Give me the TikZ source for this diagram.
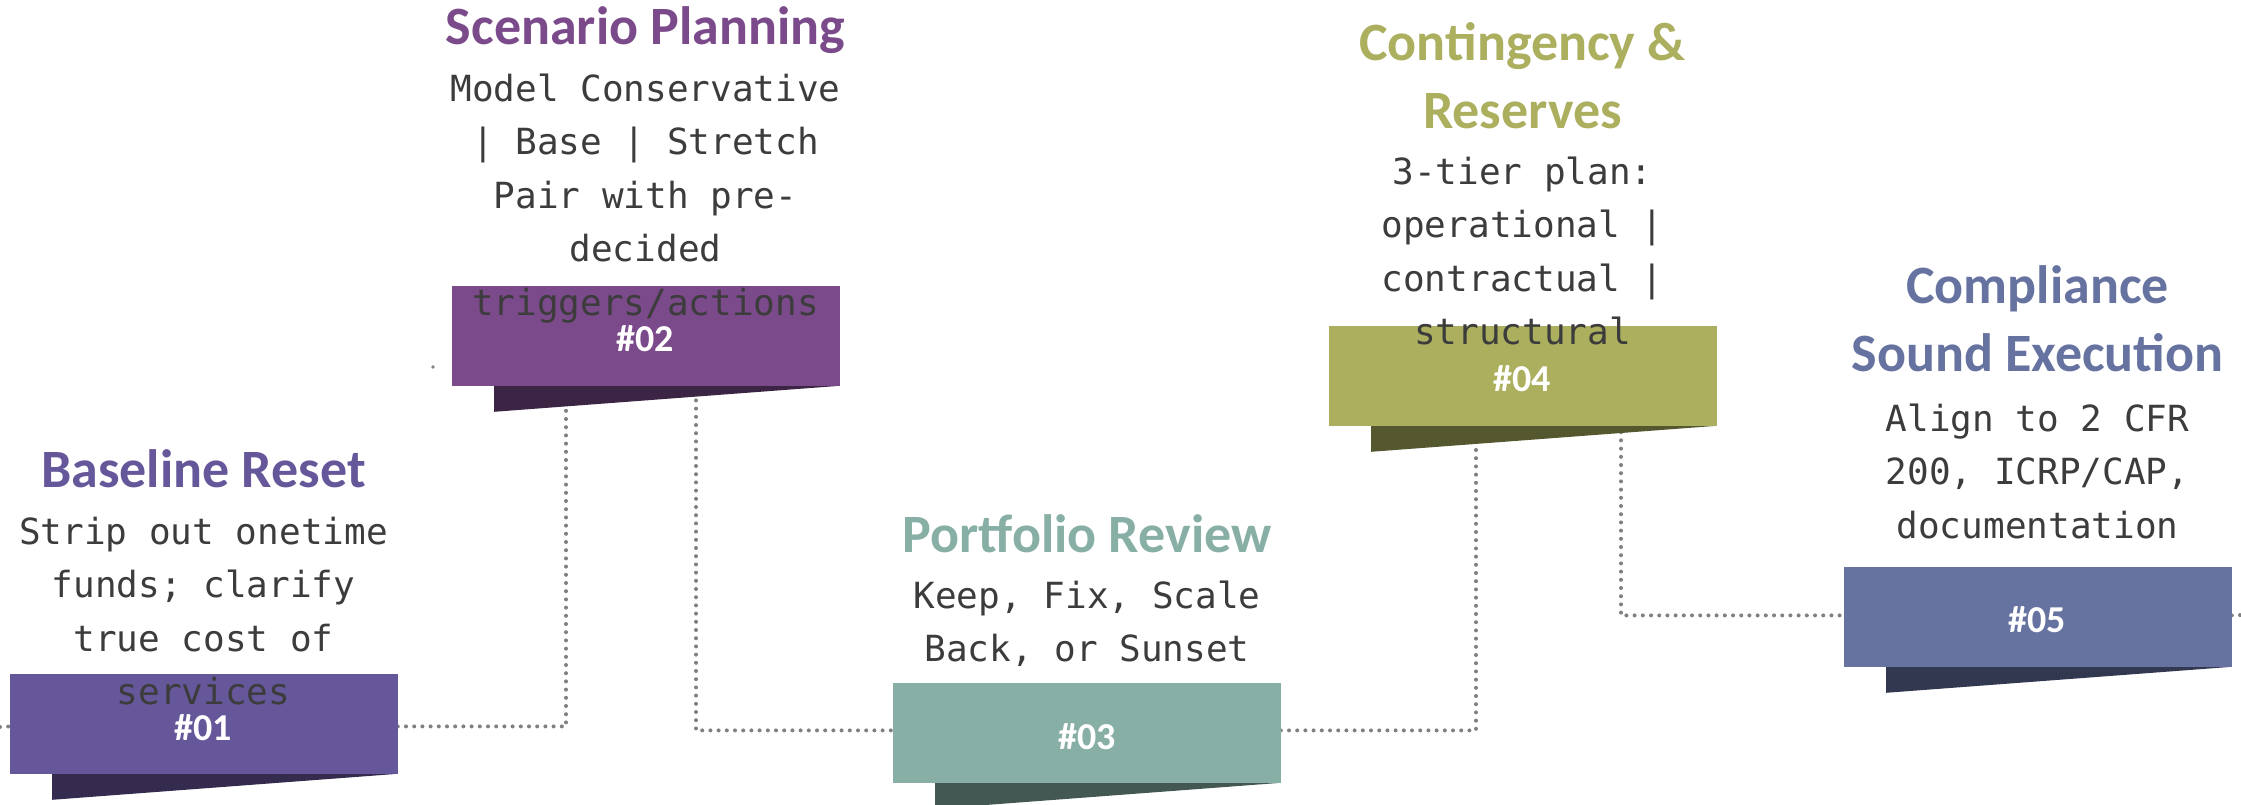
\documentclass[tikz,border=0pt]{standalone}
\usepackage{fontspec}
\setmainfont{Carlito}
\newfontfamily\monofont{DejaVu Sans Mono}
\definecolor{cA}{HTML}{66579B}
\definecolor{cB}{HTML}{7B4A8B}
\definecolor{cC}{HTML}{88AFA5}
\definecolor{cD}{HTML}{ABAF5E}
\definecolor{cE}{HTML}{6673A0}
\definecolor{sA}{HTML}{342B4E}
\definecolor{sB}{HTML}{3C2444}
\definecolor{sC}{HTML}{435853}
\definecolor{sD}{HTML}{55582F}
\definecolor{sE}{HTML}{333851}
\definecolor{dotgray}{HTML}{808080}
\definecolor{bodygray}{HTML}{3C3C3C}
\tikzset{
  dotline/.style={draw=dotgray, line width=2pt, line cap=round, dash pattern=on 0pt off 4.1pt},
  stepbox/.style={minimum width=193.5pt, minimum height=49.5pt, inner sep=0pt, draw=none, anchor=north west},
  bodytext/.style={font=\monofont\fontsize{18}{22}\selectfont, text=bodygray, anchor=base, inner sep=0pt},
  titletext/.style={font=\bfseries\fontsize{27}{32}\selectfont, anchor=base, inner sep=0pt},
  numtext/.style={font=\bfseries\fontsize{19}{22}\selectfont, text=white, inner sep=0pt},
}
\begin{document}
\begin{tikzpicture}[x=0.5pt,y=-0.5pt]
\useasboundingbox[fill=white] (0,0) rectangle (2241,804);
\node[stepbox, fill=cA] (b1) at (10,674) {};
\node[stepbox, fill=cB] (b2) at (452,286) {};
\node[stepbox, fill=cC] (b3) at (893,683) {};
\node[stepbox, fill=cD] (b4) at (1329,326) {};
\node[stepbox, fill=cE] (b5) at (1844,567) {};
% connectors
\coordinate (in) at (0,727);
\coordinate (j12) at (566,384);
\coordinate (j23) at (696,384);
\coordinate (j34) at (1476,424);
\coordinate (j45) at (1621,424);
\coordinate (out) at (2241,615);
\draw[dotline] (in) -- ([yshift=-1.25pt]b1.west);
\draw[dotline] ([yshift=-1.25pt]b1.east) -| (j12);
\draw[dotline] (j23) |- ([yshift=1.25pt]b3.west);
\draw[dotline] ([yshift=1.25pt]b3.east) -| (j34);
\draw[dotline] (j45) |- ([yshift=0.75pt]b5.west);
\draw[dotline] ([yshift=0.75pt]b5.east) -- (out);
\fill[dotgray] (433,367) circle (0.9pt);
% shadows
\fill[sA] ([xshift=21pt]b1.south west) -- (b1.south east) -- ([xshift=21pt,yshift=-13pt]b1.south west) -- cycle;
\fill[sB] ([xshift=21pt]b2.south west) -- (b2.south east) -- ([xshift=21pt,yshift=-13pt]b2.south west) -- cycle;
\fill[sC] ([xshift=21pt]b3.south west) -- (b3.south east) -- ([xshift=21pt,yshift=-13pt]b3.south west) -- cycle;
\fill[sD] ([xshift=21pt]b4.south west) -- (b4.south east) -- ([xshift=21pt,yshift=-13pt]b4.south west) -- cycle;
\fill[sE] ([xshift=21pt]b5.south west) -- (b5.south east) -- ([xshift=21pt,yshift=-13pt]b5.south west) -- cycle;
% boxes on top of connectors
\fill[cA] (b1.north west) rectangle (b1.south east);
\fill[cB] (b2.north west) rectangle (b2.south east);
\fill[cC] (b3.north west) rectangle (b3.south east);
\fill[cD] (b4.north west) rectangle (b4.south east);
\fill[cE] (b5.north west) rectangle (b5.south east);
% numbers
\node[numtext] (n1) at (203.5,728) {\#01};
\node[numtext] (n2) at (645.5,339) {\#02};
\node[numtext] (n3) at (1087,736.5) {\#03};
\node[numtext] (n4) at (1522.5,379) {\#04};
\node[numtext] (n5) at (2037.5,620) {\#05};
% group 1
\node[titletext, text=cA] (t1) at (203.5,487) {Baseline Reset};
\node[bodytext] (d1a) at (203.5,544) {Strip out onetime};
\node[bodytext] (d1b) at (203.5,597.5) {funds; clarify};
\node[bodytext] (d1c) at (203.5,651) {true cost of};
\node[bodytext] (d1d) at (203.5,704.5) {services};
% group 2
\node[titletext, text=cB] (t2) at (645.5,44) {Scenario Planning};
\node[bodytext] (d2a) at (645.5,101) {Model Conservative};
\node[bodytext] (d2b) at (645.5,154.5) {| Base | Stretch};
\node[bodytext] (d2c) at (645.5,208) {Pair with pre-};
\node[bodytext] (d2d) at (645.5,261.5) {decided};
\node[bodytext] (d2e) at (645.5,315) {triggers/actions};
% group 3
\node[titletext, text=cC] (t3) at (1087,552) {Portfolio Review};
\node[bodytext] (d3a) at (1087,608) {Keep, Fix, Scale};
\node[bodytext] (d3b) at (1087,661.5) {Back, or Sunset};
% group 4
\node[titletext, text=cD] (t4a) at (1522.5,60) {Contingency \&};
\node[titletext, text=cD] (t4b) at (1522.5,128) {Reserves};
\node[bodytext] (d4a) at (1522.5,184) {3-tier plan:};
\node[bodytext] (d4b) at (1522.5,237.5) {operational |};
\node[bodytext] (d4c) at (1522.5,291) {contractual |};
\node[bodytext] (d4d) at (1522.5,344.5) {structural};
% group 5
\node[titletext, text=cE] (t5a) at (2037.5,303) {Compliance};
\node[titletext, text=cE] (t5b) at (2037.5,371) {Sound Execution};
\node[bodytext] (d5a) at (2037.5,431) {Align to 2 CFR};
\node[bodytext] (d5b) at (2037.5,484.5) {200, ICRP/CAP,};
\node[bodytext] (d5c) at (2037.5,538) {documentation};
\end{tikzpicture}
\end{document}
